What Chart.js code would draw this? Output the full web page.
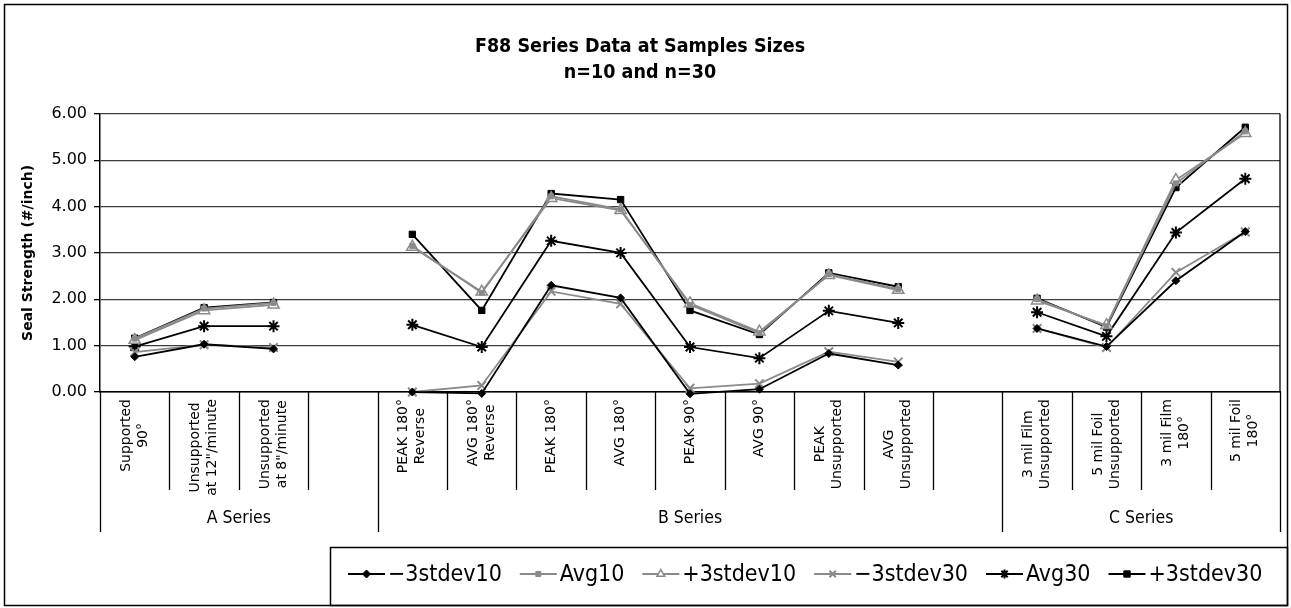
<!DOCTYPE html>
<html>
<head>
<meta charset="utf-8">
<title>F88 Series Data</title>
<script src="https://cdn.jsdelivr.net/npm/chart.js@4.4.1/dist/chart.umd.min.js"></script>
<style>
    html, body { margin: 0; padding: 0; background: #fff; }
    #wrap { width: 1291px; height: 608px; }
</style>
</head>
<body>
<div id="wrap"><canvas id="sealChart" width="1291" height="608"></canvas></div>
<script>
// Category labels (one entry per column, blank columns separate the groups)
const categories = [
    ['Supported', '90°'],
    ['Unsupported', 'at 12"/minute'],
    ['Unsupported', 'at 8"/minute'],
    [],
    ['PEAK 180°', 'Reverse'],
    ['AVG 180°', 'Reverse'],
    ['PEAK 180°'],
    ['AVG 180°'],
    ['PEAK 90°'],
    ['AVG 90°'],
    ['PEAK', 'Unsupported'],
    ['AVG', 'Unsupported'],
    [],
    ['3 mil Film', 'Unsupported'],
    ['5 mil Foil', 'Unsupported'],
    ['3 mil Film', '180°'],
    ['5 mil Foil', '180°']
];

const groupNames = ['A Series', 'B Series', 'C Series'];
const groupStarts = [0, 4, 13];
const groupEnds = [3, 12, 16];

const yTickValues = [0, 1, 2, 3, 4, 5, 6];

// Series values (#/inch)
const minus3sd10 = [0.76, 1.03, 0.93, null, 0.00, -0.03, 2.30, 2.03, -0.04, 0.06, 0.83, 0.58, null, 1.37, 0.98, 2.40, 3.46];
const avg10      = [1.15, 1.80, 1.92, null, 3.15, 2.14, 4.22, 3.94, 1.88, 1.27, 2.54, 2.22, null, 2.00, 1.42, 4.50, 5.62];
const plus3sd10  = [1.12, 1.76, 1.88, null, 3.13, 2.16, 4.18, 3.92, 1.91, 1.30, 2.52, 2.20, null, 1.97, 1.44, 4.57, 5.58];
const minus3sd30 = [0.86, 1.02, 0.96, null, 0.00, 0.14, 2.17, 1.90, 0.08, 0.18, 0.87, 0.65, null, 1.37, 0.96, 2.58, 3.45];
const avg30      = [0.98, 1.42, 1.42, null, 1.45, 0.97, 3.26, 3.00, 0.97, 0.73, 1.75, 1.49, null, 1.72, 1.20, 3.44, 4.60];
const plus3sd30  = [1.16, 1.82, 1.93, null, 3.40, 1.76, 4.28, 4.15, 1.76, 1.24, 2.57, 2.27, null, 2.02, 1.40, 4.41, 5.71];

const BLACK = '#000000';
const GREY = '#8a8a8a';
const condensed = "'DejaVu Sans Condensed', 'Liberation Sans Narrow', sans-serif";
const plain = "'DejaVu Sans', Verdana, sans-serif";

function series(label, data, colour, style, radius, fill, pointBorder) {
    return {
        label: label,
        data: data,
        borderColor: colour,
        backgroundColor: colour,
        borderWidth: 1.8,
        pointStyle: style,
        pointRadius: radius,
        pointHoverRadius: radius,
        pointBackgroundColor: fill,
        pointBorderColor: colour,
        pointBorderWidth: pointBorder,
        tension: 0,
        spanGaps: false,
        clip: false
    };
}

// Draws the two-level category axis, the frames and the legend
const seriesFrame = {
    id: 'seriesFrame',
    afterDraw(chart) {
        const ctx = chart.ctx;
        const x = chart.scales.x;
        const area = chart.chartArea;
        const n = categories.length;
        const edge = i => i === 0 ? x.left : (i === n ? x.right : (x.getPixelForValue(i - 1) + x.getPixelForValue(i)) / 2);

        ctx.save();
        ctx.strokeStyle = BLACK;
        ctx.lineWidth = 1.3;

        // plot area right side
        ctx.beginPath();
        ctx.moveTo(area.right, area.top);
        ctx.lineTo(area.right, area.bottom);
        ctx.stroke();

        // column separators below the axis
        for (let i = 0; i <= n; i++) {
            const isGroupEdge = groupStarts.includes(i) || groupEnds.some(e => e + 1 === i);
            const px = Math.round(edge(i)) + 0.5;
            ctx.beginPath();
            ctx.moveTo(px, area.bottom);
            ctx.lineTo(px, area.bottom + (isGroupEdge ? 140 : 98));
            ctx.stroke();
        }

        // rotated category labels
        ctx.fillStyle = BLACK;
        ctx.font = '14px ' + plain;
        ctx.textBaseline = 'middle';
        ctx.textAlign = 'center';
        const lh = 17;
        categories.forEach((lines, i) => {
            if (!lines.length) return;
            const cx = x.getPixelForValue(i);
            const w = Math.max(...lines.map(t => ctx.measureText(t).width));
            ctx.save();
            ctx.translate(cx, area.bottom + 7);
            ctx.rotate(-Math.PI / 2);
            lines.forEach((t, k) => {
                ctx.fillText(t, -w / 2, (k - (lines.length - 1) / 2) * lh);
            });
            ctx.restore();
        });

        // group labels
        ctx.font = '17.5px ' + condensed;
        groupNames.forEach((g, k) => {
            const cx = (edge(groupStarts[k]) + edge(groupEnds[k] + 1)) / 2;
            ctx.fillText(g, cx, area.bottom + 126);
        });

        // outer border
        ctx.lineWidth = 1.5;
        ctx.strokeRect(4.5, 4.5, 1283, 601);

        // legend
        const box = { left: 330.5, top: 547.5, right: 1287.5, bottom: 605.5 };
        ctx.strokeRect(box.left, box.top, box.right - box.left, box.bottom - box.top);
        ctx.font = '23px ' + condensed;
        ctx.textAlign = 'left';
        const ly = 574;
        let lx = 348;
        chart.data.datasets.forEach(ds => {
            ctx.strokeStyle = ds.borderColor;
            ctx.lineWidth = 1.8;
            ctx.beginPath();
            ctx.moveTo(lx, ly);
            ctx.lineTo(lx + 37, ly);
            ctx.stroke();
            ctx.fillStyle = ds.pointBackgroundColor;
            ctx.strokeStyle = ds.pointBorderColor;
            ctx.lineWidth = ds.pointBorderWidth;
            Chart.helpers.drawPoint(ctx, {
                pointStyle: ds.pointStyle,
                radius: Math.min(ds.pointRadius, 4.5),
                rotation: 0,
                borderWidth: ds.pointBorderWidth
            }, lx + 18.5, ly);
            ctx.fillStyle = BLACK;
            ctx.fillText(ds.label, lx + 40, ly + 1);
            lx += 40 + ctx.measureText(ds.label).width + 18;
        });
        ctx.restore();
    }
};

const ctx = document.getElementById('sealChart').getContext('2d');
const sealChart = new Chart(ctx, {
    type: 'line',
    data: {
        labels: categories.map(c => c.join(' ')),
        datasets: [
            series('−3stdev10', minus3sd10, BLACK, 'rectRot', 4, BLACK, 1),
            series('Avg10', avg10, GREY, 'rect', 3.5, GREY, 1),
            series('+3stdev10', plus3sd10, GREY, 'triangle', 6.5, '#ffffff', 1.5),
            series('−3stdev30', minus3sd30, GREY, 'crossRot', 6, GREY, 2),
            series('Avg30', avg30, BLACK, 'star', 6, BLACK, 2),
            series('+3stdev30', plus3sd30, BLACK, 'rect', 4.5, BLACK, 1)
        ]
    },
    options: {
        responsive: false,
        animation: false,
        layout: { padding: { left: 0, right: 11, top: 0, bottom: 0 } },
        plugins: {
            legend: { display: false },
            tooltip: { enabled: false },
            title: {
                display: true,
                text: ['F88 Series Data at Samples Sizes', 'n=10 and n=30'],
                color: BLACK,
                font: { family: condensed, size: 19.5, weight: 'bold', lineHeight: 1.38 },
                padding: { top: 33, bottom: 27 }
            }
        },
        scales: {
            x: {
                type: 'category',
                offset: true,
                grid: { display: false },
                ticks: { display: false },
                border: { display: true, color: BLACK, width: 1.5 },
                afterFit: s => { s.height = 216; }
            },
            y: {
                min: 0,
                max: 6,
                afterFit: s => { s.width = 100; },
                afterBuildTicks: s => { s.ticks = yTickValues.map(v => ({ value: v })); },
                ticks: {
                    color: BLACK,
                    padding: 7,
                    font: { family: plain, size: 16 },
                    callback: v => Number(v).toFixed(2)
                },
                grid: { color: '#3c3c3c', lineWidth: 1.3, tickLength: 6, tickColor: BLACK },
                border: { display: true, color: BLACK, width: 1.5 },
                title: {
                    display: true,
                    text: 'Seal Strength (#/inch)',
                    color: BLACK,
                    font: { family: plain, size: 14, weight: 'bold' },
                    padding: { top: 20, bottom: 0 }
                }
            }
        }
    },
    plugins: [seriesFrame]
});
</script>
</body>
</html>
